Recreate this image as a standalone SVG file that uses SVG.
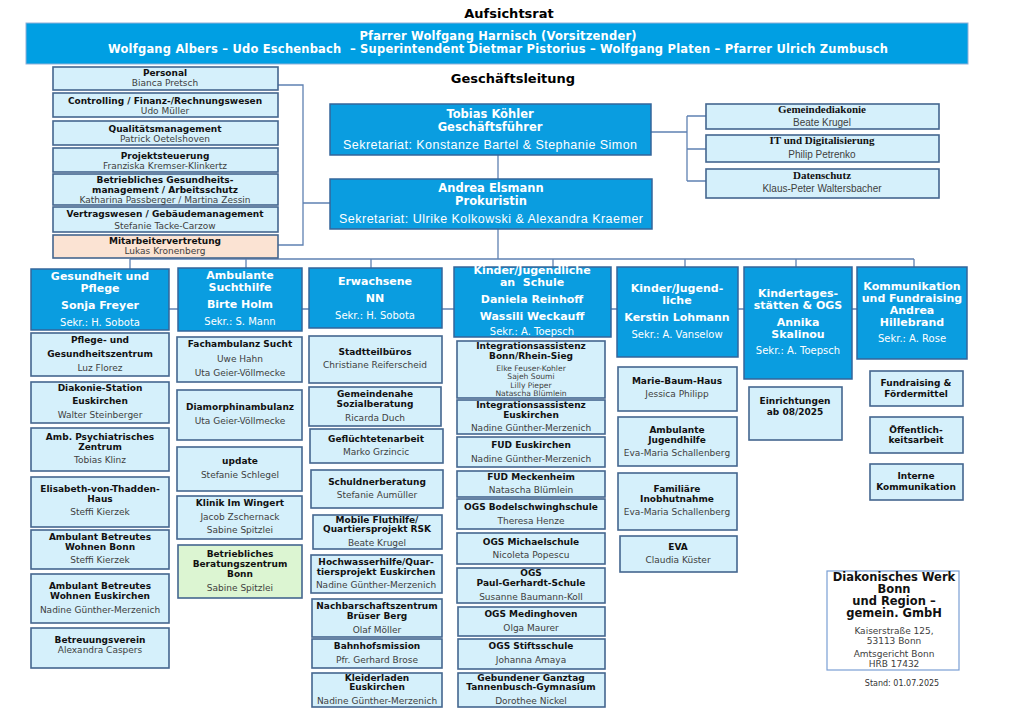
<svg xmlns="http://www.w3.org/2000/svg" width="1024" height="709" viewBox="0 0 1024 709">
<style>
text{font-family:"DejaVu Sans",Verdana,sans-serif;text-anchor:middle}
.hd{fill:#0a9de0;stroke:#35659a;stroke-width:1.5}
.lb{fill:#d5f0fb;stroke:#44668f;stroke-width:1.6}
.pe{fill:#fbe3d3;stroke:#44668f;stroke-width:1.6}
.gr{fill:#dcf5d2;stroke:#44668f;stroke-width:1.6}
.t{font-weight:bold;font-size:9px;fill:#111}
.n{font-size:9px;fill:#404040}
.s{font-size:7.6px;fill:#404040}
.h{font-weight:bold;font-size:11px;fill:#fff}
.hb{font-weight:bold;font-size:11.5px;fill:#fff}
.hs{font-size:10px;fill:#fff}
.hk{font-family:"Liberation Sans",Arial,sans-serif;font-size:12.5px;fill:#fff}
.rt{font-family:"Liberation Serif","Times New Roman",serif;font-weight:bold;font-size:11px;fill:#111}
.rn{font-family:"Liberation Sans",Arial,sans-serif;font-size:10px;fill:#404040}
.ttl{font-weight:bold;font-size:13px;fill:#000}
.c{stroke:#5f81b2;stroke-width:1.3;fill:none}
</style>
<rect width="1024" height="709" fill="#fff"/>

<g id="connectors">
<path class="c" d="M278,85H303V245H278M303,203H330"/>
<path class="c" d="M498,155V179M498,229V259"/>
<path class="c" d="M651,132H687M687,116V181M687,116H706M687,149H706M687,181H706"/>
<path class="c" d="M130,259H914M130,259V269M246,259V268M371,259V268M553,259V267M685,259V267M796,259V267M914,259V267"/>
<path class="c" d="M169,309H857"/>
</g>

<text class="ttl" x="509" y="18">Aufsichtsrat</text>
<g id="aufsichtsrat">
<rect x="26" y="23" width="942" height="41" fill="#009fe3" stroke="#8fb0d8" stroke-width="1"/>
<text class="hb" x="498" y="40" textLength="277">Pfarrer Wolfgang Harnisch (Vorsitzender)</text>
<text class="hb" x="498" y="53" textLength="780" style="white-space:pre">Wolfgang Albers – Udo Eschenbach  – Superintendent Dietmar Pistorius – Wolfgang Platen – Pfarrer Ulrich Zumbusch</text>
</g>
<text class="ttl" x="513" y="83">Geschäftsleitung</text>

<g id="personal"><rect class="lb" x="53" y="67" width="225" height="23"/><text class="t" x="165" y="76">Personal</text><text class="n" x="165" y="85.5">Bianca Pretsch</text></g>
<g id="controlling"><rect class="lb" x="53" y="93" width="225" height="24"/><text class="t" x="165" y="104">Controlling / Finanz-/Rechnungswesen</text><text class="n" x="165" y="114">Udo Müller</text></g>
<g id="qm"><rect class="lb" x="53" y="121" width="225" height="24"/><text class="t" x="165" y="131.5">Qualitätsmanagement</text><text class="n" x="165" y="141.5">Patrick Oetelshoven</text></g>
<g id="projekt"><rect class="lb" x="53" y="148" width="225" height="24"/><text class="t" x="165" y="158.5">Projektsteuerung</text><text class="n" x="165" y="168.5">Franziska Kremser-Klinkertz</text></g>
<g id="bgm"><rect class="lb" x="53" y="174" width="225" height="31"/><text class="t" x="165" y="182.5">Betriebliches Gesundheits-</text><text class="t" x="165" y="192.5">management / Arbeitsschutz</text><text class="n" x="165" y="202.5">Katharina Passberger / Martina Zessin</text></g>
<g id="vertrag"><rect class="lb" x="53" y="207" width="225" height="25"/><text class="t" x="165" y="216.5">Vertragswesen / Gebäudemanagement</text><text class="n" x="165" y="229">Stefanie Tacke-Carzow</text></g>
<g id="mav"><rect class="pe" x="53" y="235" width="225" height="23"/><text class="t" x="165" y="243.5">Mitarbeitervertretung</text><text class="n" x="165" y="253.5">Lukas Kronenberg</text></g>

<g id="koehler"><rect class="hd" x="330" y="104" width="321" height="51"/><text class="hb" x="490" y="118">Tobias Köhler</text><text class="hb" x="490" y="131">Geschäftsführer</text><text class="hk" x="490" y="149" textLength="294">Sekretariat: Konstanze Bartel &amp; Stephanie Simon</text></g>
<g id="elsmann"><rect class="hd" x="330" y="179" width="322" height="50"/><text class="hb" x="491" y="192">Andrea Elsmann</text><text class="hb" x="491" y="205">Prokuristin</text><text class="hk" x="491" y="223" textLength="304">Sekretariat: Ulrike Kolkowski &amp; Alexandra Kraemer</text></g>

<g id="gemeindediakonie"><rect class="lb" x="706" y="104" width="233" height="25"/><text class="rt" x="822" y="113">Gemeindediakonie</text><text class="rn" x="822" y="126">Beate Krugel</text></g>
<g id="it"><rect class="lb" x="706" y="135" width="233" height="27"/><text class="rt" x="822" y="144">IT und Digitalisierung</text><text class="rn" x="822" y="158">Philip Petrenko</text></g>
<g id="datenschutz"><rect class="lb" x="706" y="169" width="233" height="29"/><text class="rt" x="822" y="179">Datenschutz</text><text class="rn" x="822" y="192">Klaus-Peter Waltersbacher</text></g>

<g id="col1-head"><rect class="hd" x="31" y="269" width="138" height="61"/><text class="h" x="100" y="280">Gesundheit und</text><text class="h" x="100" y="292">Pflege</text><text class="h" x="100" y="309">Sonja Freyer</text><text class="hs" x="100" y="326">Sekr.: H. Sobota</text></g>
<g id="col2-head"><rect class="hd" x="178" y="268" width="124" height="63"/><text class="h" x="240" y="279">Ambulante</text><text class="h" x="240" y="291">Suchthilfe</text><text class="h" x="240" y="308">Birte Holm</text><text class="hs" x="240" y="325">Sekr.: S. Mann</text></g>
<g id="col3-head"><rect class="hd" x="309" y="268" width="133" height="60"/><text class="h" x="375" y="285">Erwachsene</text><text class="h" x="375" y="302">NN</text><text class="hs" x="375" y="319">Sekr.: H. Sobota</text></g>
<g id="col4-head"><rect class="hd" x="454" y="267" width="157" height="70"/><text class="h" x="532" y="274">Kinder/Jugendliche</text><text class="h" x="532" y="286" style="white-space:pre">an  Schule</text><text class="h" x="532" y="303">Daniela Reinhoff</text><text class="h" x="532" y="320">Wassili Weckauff</text><text class="hs" x="532" y="335">Sekr.: A. Toepsch</text></g>
<g id="col5-head"><rect class="hd" x="617" y="267" width="121" height="90"/><text class="h" x="677" y="292">Kinder/Jugend-</text><text class="h" x="677" y="304">liche</text><text class="h" x="677" y="321">Kerstin Lohmann</text><text class="hs" x="677" y="338">Sekr.: A. Vanselow</text></g>
<g id="col6-head"><rect class="hd" x="744" y="267" width="108" height="112"/><text class="h" x="798" y="297">Kindertages-</text><text class="h" x="798" y="309">stätten &amp; OGS</text><text class="h" x="798" y="326">Annika</text><text class="h" x="798" y="338">Skalinou</text><text class="hs" x="798" y="354">Sekr.: A. Toepsch</text></g>
<g id="col7-head"><rect class="hd" x="857" y="267" width="110" height="92"/><text class="h" x="912" y="290">Kommunikation</text><text class="h" x="912" y="302">und Fundraising</text><text class="h" x="912" y="314">Andrea</text><text class="h" x="912" y="326">Hillebrand</text><text class="hs" x="912" y="342">Sekr.: A. Rose</text></g>

<g id="c1-pflege"><rect class="lb" x="31" y="333" width="138" height="43"/><text class="t" x="100" y="343">Pflege- und</text><text class="t" x="100" y="357">Gesundheitszentrum</text><text class="n" x="100" y="371">Luz Florez</text></g>
<g id="c1-diakonie"><rect class="lb" x="31" y="382" width="138" height="41"/><text class="t" x="100" y="391">Diakonie-Station</text><text class="t" x="100" y="404">Euskirchen</text><text class="n" x="100" y="418">Walter Steinberger</text></g>
<g id="c1-psych"><rect class="lb" x="31" y="428" width="138" height="43"/><text class="t" x="100" y="440">Amb. Psychiatrisches</text><text class="t" x="100" y="449.5">Zentrum</text><text class="n" x="100" y="463">Tobias Klinz</text></g>
<g id="c1-thadden"><rect class="lb" x="31" y="477" width="138" height="50"/><text class="t" x="100" y="492">Elisabeth-von-Thadden-</text><text class="t" x="100" y="502">Haus</text><text class="n" x="100" y="515">Steffi Kierzek</text></g>
<g id="c1-abw-bonn"><rect class="lb" x="31" y="530" width="138" height="39"/><text class="t" x="100" y="540">Ambulant Betreutes</text><text class="t" x="100" y="550">Wohnen Bonn</text><text class="n" x="100" y="563">Steffi Kierzek</text></g>
<g id="c1-abw-eus"><rect class="lb" x="31" y="574" width="138" height="49"/><text class="t" x="100" y="589">Ambulant Betreutes</text><text class="t" x="100" y="599">Wohnen Euskirchen</text><text class="n" x="100" y="613">Nadine Günther-Merzenich</text></g>
<g id="c1-betreuung"><rect class="lb" x="31" y="628" width="138" height="40"/><text class="t" x="100" y="643">Betreuungsverein</text><text class="n" x="100" y="653">Alexandra Caspers</text></g>

<g id="c2-fach"><rect class="lb" x="177" y="337" width="125" height="45"/><text class="t" x="240" y="347">Fachambulanz Sucht</text><text class="n" x="240" y="362">Uwe Hahn</text><text class="n" x="240" y="376">Uta Geier-Völlmecke</text></g>
<g id="c2-diamorphin"><rect class="lb" x="177" y="390" width="125" height="50"/><text class="t" x="240" y="410">Diamorphinambulanz</text><text class="n" x="240" y="424">Uta Geier-Völlmecke</text></g>
<g id="c2-update"><rect class="lb" x="177" y="447" width="125" height="44"/><text class="t" x="240" y="464">update</text><text class="n" x="240" y="478">Stefanie Schlegel</text></g>
<g id="c2-wingert"><rect class="lb" x="177" y="496" width="125" height="43"/><text class="t" x="240" y="506">Klinik Im Wingert</text><text class="n" x="240" y="520">Jacob Zschernack</text><text class="n" x="240" y="533">Sabine Spitzlei</text></g>
<g id="c2-bbz"><rect class="gr" x="178" y="545" width="124" height="53"/><text class="t" x="240" y="557">Betriebliches</text><text class="t" x="240" y="567">Beratungszentrum</text><text class="t" x="240" y="577">Bonn</text><text class="n" x="240" y="591">Sabine Spitzlei</text></g>

<g id="c3-stadtteil"><rect class="lb" x="309" y="336" width="133" height="47"/><text class="t" x="375" y="355">Stadtteilbüros</text><text class="n" x="375" y="368">Christiane Reiferscheid</text></g>
<g id="c3-sozial"><rect class="lb" x="309" y="387" width="132" height="39"/><text class="t" x="375" y="397">Gemeindenahe</text><text class="t" x="375" y="407">Sozialberatung</text><text class="n" x="375" y="421">Ricarda Duch</text></g>
<g id="c3-gefl"><rect class="lb" x="310" y="429" width="133" height="34"/><text class="t" x="376" y="442">Geflüchtetenarbeit</text><text class="n" x="376" y="455">Marko Grzincic</text></g>
<g id="c3-schuld"><rect class="lb" x="311" y="470" width="132" height="38"/><text class="t" x="377" y="485">Schuldnerberatung</text><text class="n" x="377" y="498">Stefanie Aumüller</text></g>
<g id="c3-mobil"><rect class="lb" x="313" y="515" width="129" height="34"/><text class="t" x="377" y="522.5">Mobile Fluthilfe/</text><text class="t" x="377" y="532">Quartiersprojekt RSK</text><text class="n" x="377" y="546">Beate Krugel</text></g>
<g id="c3-hochwasser"><rect class="lb" x="311" y="555" width="131" height="38"/><text class="t" x="376" y="565">Hochwasserhilfe/Quar-</text><text class="t" x="376" y="575">tiersprojekt Euskirchen</text><text class="n" x="376" y="588">Nadine Günther-Merzenich</text></g>
<g id="c3-nachbar"><rect class="lb" x="312" y="599" width="130" height="38"/><text class="t" x="377" y="609">Nachbarschaftszentrum</text><text class="t" x="377" y="619">Brüser Berg</text><text class="n" x="377" y="633">Olaf Möller</text></g>
<g id="c3-bahnhof"><rect class="lb" x="312" y="639" width="130" height="29"/><text class="t" x="377" y="649">Bahnhofsmission</text><text class="n" x="377" y="663">Pfr. Gerhard Brose</text></g>
<g id="c3-kleider"><rect class="lb" x="312" y="673" width="130" height="34"/><text class="t" x="377" y="680.5">Kleiderladen</text><text class="t" x="377" y="690">Euskirchen</text><text class="n" x="377" y="704">Nadine Günther-Merzenich</text></g>

<g id="c4-ia-bonn"><rect class="lb" x="457" y="341" width="148" height="57"/><text class="t" x="531" y="348.5">Integrationsassistenz</text><text class="t" x="531" y="358.5">Bonn/Rhein-Sieg</text><text class="s" x="531" y="371">Elke Feuser-Kohler</text><text class="s" x="531" y="379">Sajeh Soumi</text><text class="s" x="531" y="387.5">Lilly Pieper</text><text class="s" x="531" y="396">Natascha Blümlein</text></g>
<g id="c4-ia-eus"><rect class="lb" x="457" y="400" width="148" height="34"/><text class="t" x="531" y="407.5">Integrationsassistenz</text><text class="t" x="531" y="417.5">Euskirchen</text><text class="n" x="531" y="431">Nadine Günther-Merzenich</text></g>
<g id="c4-fud-eus"><rect class="lb" x="457" y="437" width="148" height="30"/><text class="t" x="531" y="448">FUD Euskirchen</text><text class="n" x="531" y="462">Nadine Günther-Merzenich</text></g>
<g id="c4-fud-meck"><rect class="lb" x="457" y="471" width="148" height="26"/><text class="t" x="531" y="479.5">FUD Meckenheim</text><text class="n" x="531" y="493">Natascha Blümlein</text></g>
<g id="c4-bodel"><rect class="lb" x="457" y="499" width="148" height="30"/><text class="t" x="531" y="510">OGS Bodelschwinghschule</text><text class="n" x="531" y="524">Theresa Henze</text></g>
<g id="c4-michael"><rect class="lb" x="457" y="533" width="148" height="31"/><text class="t" x="531" y="545">OGS Michaelschule</text><text class="n" x="531" y="558">Nicoleta Popescu</text></g>
<g id="c4-paul"><rect class="lb" x="457" y="568" width="148" height="35"/><text class="t" x="531" y="576">OGS</text><text class="t" x="531" y="586">Paul-Gerhardt-Schule</text><text class="n" x="531" y="600">Susanne Baumann-Koll</text></g>
<g id="c4-meding"><rect class="lb" x="458" y="607" width="147" height="29"/><text class="t" x="531" y="617">OGS Medinghoven</text><text class="n" x="531" y="631">Olga Maurer</text></g>
<g id="c4-stift"><rect class="lb" x="458" y="639" width="147" height="30"/><text class="t" x="531" y="649">OGS Stiftsschule</text><text class="n" x="531" y="663">Johanna Amaya</text></g>
<g id="c4-ganztag"><rect class="lb" x="458" y="673" width="147" height="34"/><text class="t" x="531" y="680.5">Gebundener Ganztag</text><text class="t" x="531" y="690">Tannenbusch-Gymnasium</text><text class="n" x="531" y="704">Dorothee Nickel</text></g>

<g id="c5-mbh"><rect class="lb" x="618" y="367" width="119" height="44"/><text class="t" x="677" y="384">Marie-Baum-Haus</text><text class="n" x="677" y="397">Jessica Philipp</text></g>
<g id="c5-ajh"><rect class="lb" x="618" y="417" width="119" height="49"/><text class="t" x="677" y="433">Ambulante</text><text class="t" x="677" y="443">Jugendhilfe</text><text class="n" x="677" y="456">Eva-Maria Schallenberg</text></g>
<g id="c5-fam"><rect class="lb" x="618" y="473" width="119" height="57"/><text class="t" x="677" y="492">Familiäre</text><text class="t" x="677" y="502">Inobhutnahme</text><text class="n" x="677" y="515">Eva-Maria Schallenberg</text></g>
<g id="c5-eva"><rect class="lb" x="620" y="536" width="117" height="36"/><text class="t" x="678" y="550">EVA</text><text class="n" x="678" y="563">Claudia Küster</text></g>

<g id="c6-einr"><rect class="lb" x="749" y="387" width="93" height="53"/><text class="t" x="795" y="404">Einrichtungen</text><text class="t" x="795" y="415">ab 08/2025</text></g>

<g id="c7-fund"><rect class="lb" x="870" y="371" width="93" height="35"/><text class="t" x="916" y="386">Fundraising &amp;</text><text class="t" x="916" y="397">Fördermittel</text></g>
<g id="c7-oeff"><rect class="lb" x="870" y="417" width="93" height="36"/><text class="t" x="916" y="433">Öffentlich-</text><text class="t" x="916" y="443">keitsarbeit</text></g>
<g id="c7-intern"><rect class="lb" x="870" y="464" width="93" height="36"/><text class="t" x="916" y="479">Interne</text><text class="t" x="916" y="490">Kommunikation</text></g>

<g id="impressum">
<rect x="827" y="571" width="132" height="99" fill="#fff" stroke="#7a9fd4" stroke-width="1.2"/>
<text x="894" y="581" style="font-weight:bold;font-size:11.5px;fill:#111">Diakonisches Werk</text>
<text x="894" y="593" style="font-weight:bold;font-size:11.5px;fill:#111">Bonn</text>
<text x="894" y="605" style="font-weight:bold;font-size:11.5px;fill:#111">und Region –</text>
<text x="894" y="617" style="font-weight:bold;font-size:11.5px;fill:#111">gemein. GmbH</text>
<text class="n" x="894" y="634">Kaiserstraße 125,</text>
<text class="n" x="894" y="643.5">53113 Bonn</text>
<text class="n" x="894" y="657">Amtsgericht Bonn</text>
<text class="n" x="894" y="666.5">HRB 17432</text>
</g>
<text x="902" y="686" style="font-size:8px;fill:#333">Stand: 01.07.2025</text>
</svg>
